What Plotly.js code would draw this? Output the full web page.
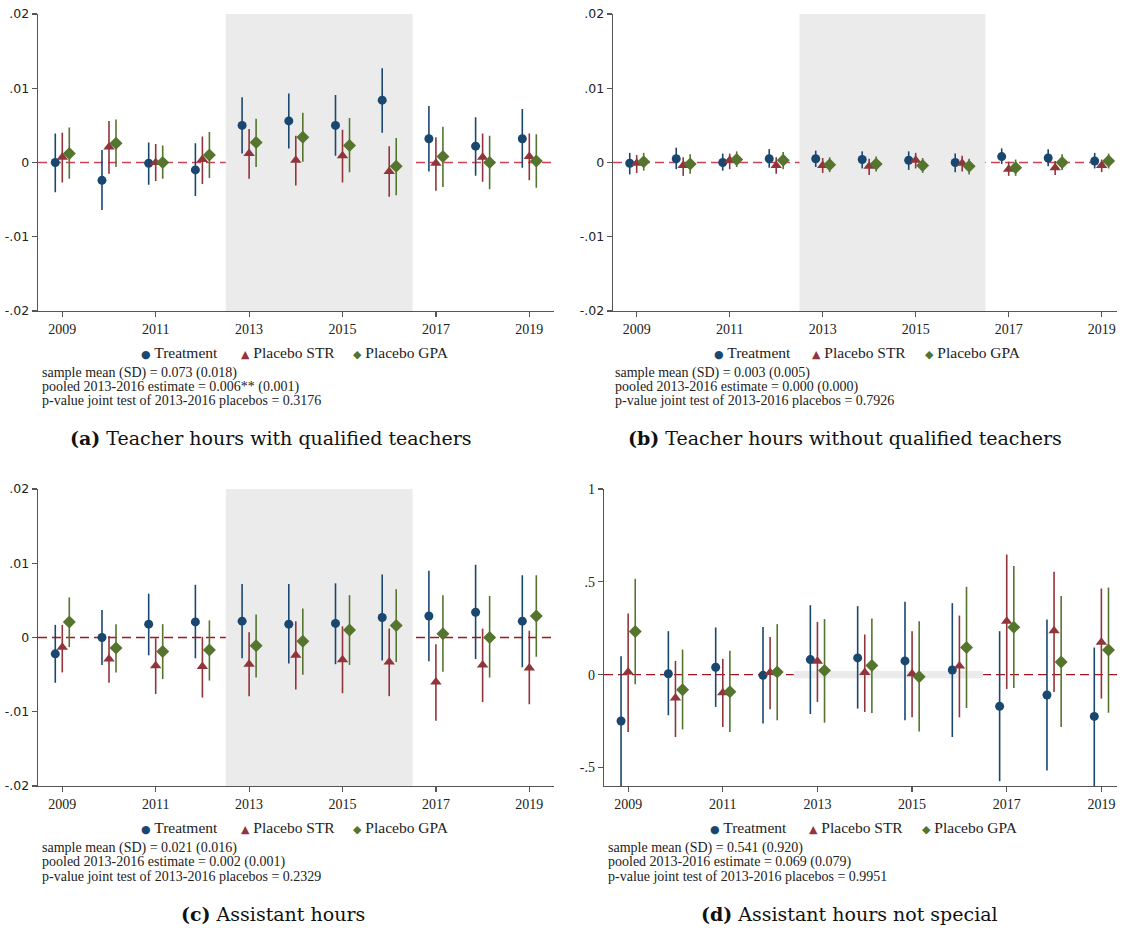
<!DOCTYPE html>
<html>
<head>
<meta charset="utf-8">
<script src="https://cdn.plot.ly/plotly-3.0.1.min.js"></script>
<style>
  html, body { margin: 0; padding: 0; background: #ffffff; }
  #chart { width: 1122px; height: 931px; }
</style>
</head>
<body>
<div id="chart"></div>
<script>
// Event-study estimates with 95% confidence intervals, 2009-2019
const years = [2009, 2010, 2011, 2012, 2013, 2014, 2015, 2016, 2017, 2018, 2019];
const yearTicks = [2009, 2011, 2013, 2015, 2017, 2019];
const seriesNames = ["Treatment", "Placebo STR", "Placebo GPA"];

// (a) Teacher hours with qualified teachers
const treatA    = [0.0000, -0.0024, -0.0001, -0.0010, 0.0050, 0.0056, 0.0050, 0.0084, 0.0032, 0.0022, 0.0032];
const treatA_lo = [-0.0040, -0.0064, -0.0030, -0.0045, 0.0012, 0.0019, 0.0009, 0.0040, -0.0012, -0.0018, -0.0007];
const treatA_hi = [0.0039, 0.0017, 0.0027, 0.0026, 0.0088, 0.0093, 0.0091, 0.0127, 0.0076, 0.0061, 0.0072];
const strA      = [0.0007, 0.0021, 0.0000, 0.0004, 0.0012, 0.0003, 0.0009, -0.0012, -0.0001, 0.0007, 0.0008];
const strA_lo   = [-0.0027, -0.0015, -0.0025, -0.0029, -0.0022, -0.0031, -0.0027, -0.0046, -0.0038, -0.0026, -0.0024];
const strA_hi   = [0.0040, 0.0056, 0.0025, 0.0035, 0.0045, 0.0036, 0.0044, 0.0022, 0.0034, 0.0039, 0.0039];
const gpaA      = [0.0012, 0.0026, 0.0000, 0.0010, 0.0027, 0.0034, 0.0023, -0.0005, 0.0008, 0.0000, 0.0002];
const gpaA_lo   = [-0.0022, -0.0006, -0.0022, -0.0021, -0.0006, 0.0001, -0.0013, -0.0044, -0.0033, -0.0036, -0.0034];
const gpaA_hi   = [0.0047, 0.0058, 0.0023, 0.0041, 0.0059, 0.0067, 0.0060, 0.0033, 0.0048, 0.0036, 0.0038];

// (b) Teacher hours without qualified teachers
const treatB    = [-0.0001, 0.0005, 0.0000, 0.0005, 0.0005, 0.0004, 0.0003, 0.0000, 0.0008, 0.0006, 0.0002];
const treatB_lo = [-0.0016, -0.0009, -0.0011, -0.0007, -0.0006, -0.0008, -0.0010, -0.0013, -0.0002, -0.0005, -0.0008];
const treatB_hi = [0.0013, 0.0020, 0.0012, 0.0018, 0.0016, 0.0015, 0.0015, 0.0012, 0.0019, 0.0018, 0.0013];
const strB      = [-0.0001, -0.0004, 0.0003, -0.0004, -0.0004, -0.0005, 0.0003, -0.0001, -0.0009, -0.0007, -0.0004];
const strB_lo   = [-0.0014, -0.0018, -0.0009, -0.0015, -0.0014, -0.0017, -0.0008, -0.0012, -0.0018, -0.0017, -0.0013];
const strB_hi   = [0.0010, 0.0007, 0.0012, 0.0007, 0.0006, 0.0005, 0.0013, 0.0009, 0.0001, 0.0002, 0.0004];
const gpaB      = [0.0001, -0.0002, 0.0004, 0.0003, -0.0003, -0.0002, -0.0004, -0.0005, -0.0007, 0.0000, 0.0002];
const gpaB_lo   = [-0.0011, -0.0015, -0.0006, -0.0009, -0.0013, -0.0012, -0.0014, -0.0016, -0.0018, -0.0010, -0.0008];
const gpaB_hi   = [0.0013, 0.0011, 0.0015, 0.0014, 0.0007, 0.0008, 0.0006, 0.0005, 0.0004, 0.0011, 0.0012];

// (c) Assistant hours
const treatC    = [-0.0022, 0.0000, 0.0018, 0.0021, 0.0022, 0.0018, 0.0019, 0.0027, 0.0029, 0.0034, 0.0022];
const treatC_lo = [-0.0061, -0.0037, -0.0024, -0.0028, -0.0028, -0.0035, -0.0036, -0.0031, -0.0032, -0.0029, -0.0040];
const treatC_hi = [0.0017, 0.0037, 0.0059, 0.0071, 0.0072, 0.0072, 0.0073, 0.0085, 0.0090, 0.0098, 0.0084];
const strC      = [-0.0013, -0.0029, -0.0038, -0.0039, -0.0036, -0.0024, -0.0030, -0.0033, -0.0060, -0.0037, -0.0041];
const strC_lo   = [-0.0047, -0.0061, -0.0076, -0.0081, -0.0079, -0.0070, -0.0075, -0.0079, -0.0112, -0.0087, -0.0090];
const strC_hi   = [0.0017, 0.0002, -0.0001, 0.0001, 0.0007, 0.0022, 0.0015, 0.0012, -0.0009, 0.0012, 0.0009];
const gpaC      = [0.0021, -0.0014, -0.0019, -0.0017, -0.0011, -0.0005, 0.0010, 0.0016, 0.0005, 0.0000, 0.0029];
const gpaC_lo   = [-0.0013, -0.0047, -0.0056, -0.0058, -0.0054, -0.0050, -0.0037, -0.0033, -0.0046, -0.0054, -0.0026];
const gpaC_hi   = [0.0054, 0.0018, 0.0018, 0.0023, 0.0031, 0.0039, 0.0057, 0.0065, 0.0057, 0.0056, 0.0084];

// (d) Assistant hours not special
const treatD    = [-0.250, 0.005, 0.040, -0.004, 0.081, 0.090, 0.074, 0.025, -0.171, -0.110, -0.225];
const treatD_lo = [-0.640, -0.219, -0.174, -0.263, -0.212, -0.183, -0.246, -0.336, -0.574, -0.516, -0.605];
const treatD_hi = [0.099, 0.234, 0.254, 0.257, 0.374, 0.369, 0.392, 0.385, 0.234, 0.297, 0.146];
const strD      = [0.014, -0.126, -0.097, 0.011, 0.072, 0.011, 0.005, 0.047, 0.288, 0.236, 0.174];
const strD_lo   = [-0.309, -0.336, -0.282, -0.187, -0.147, -0.201, -0.230, -0.230, -0.077, -0.094, -0.129];
const strD_hi   = [0.329, 0.074, 0.085, 0.203, 0.284, 0.216, 0.234, 0.318, 0.647, 0.554, 0.464];
const gpaD      = [0.232, -0.081, -0.092, 0.014, 0.022, 0.049, -0.011, 0.146, 0.255, 0.068, 0.133];
const gpaD_lo   = [-0.052, -0.295, -0.309, -0.246, -0.259, -0.207, -0.306, -0.180, -0.072, -0.282, -0.205];
const gpaD_hi   = [0.516, 0.135, 0.129, 0.272, 0.299, 0.302, 0.288, 0.473, 0.585, 0.423, 0.469];

// Y-axis ticks
const smallTickVals = [-0.02, -0.01, 0, 0.01, 0.02];
const smallTickText = ["-.02", "-.01", "0", ".01", ".02"];
const wideTickVals  = [-0.5, 0, 0.5, 1];
const wideTickText  = ["-.5", "0", ".5", "1"];

// Panel captions and note lines
const captions = [
  "<b>(a)</b> Teacher hours with qualified teachers",
  "<b>(b)</b> Teacher hours without qualified teachers",
  "<b>(c)</b> Assistant hours",
  "<b>(d)</b> Assistant hours not special"
];
const notesA = ["sample mean (SD) = 0.073 (0.018)", "pooled 2013-2016 estimate = 0.006** (0.001)", "p-value joint test of 2013-2016 placebos = 0.3176"];
const notesB = ["sample mean (SD) = 0.003 (0.005)", "pooled 2013-2016 estimate = 0.000 (0.000)", "p-value joint test of 2013-2016 placebos = 0.7926"];
const notesC = ["sample mean (SD) = 0.021 (0.016)", "pooled 2013-2016 estimate = 0.002 (0.001)", "p-value joint test of 2013-2016 placebos = 0.2329"];
const notesD = ["sample mean (SD) = 0.541 (0.920)", "pooled 2013-2016 estimate = 0.069 (0.079)", "p-value joint test of 2013-2016 placebos = 0.9951"];

// ---------------------------------------------------------------------------
const W = 1122, H = 931;
const fx = v => v / W;
const fy = v => 1 - v / H;

const colors  = ["#1a476f", "#90353b", "#55752f"];
const symbols = ["circle", "triangle-up", "diamond"];
const msizes  = [9, 10, 10];
const glyphs  = ["\u25CF", "\u25B2", "\u25C6"];
const gsizes  = [11, 11, 11];
const offsets = [-0.15, 0, 0.15];

const serif = "Liberation Serif, Times New Roman, serif";
const sans  = "DejaVu Sans, Verdana, sans-serif";

const panels = [
  { series: [[treatA, treatA_lo, treatA_hi], [strA, strA_lo, strA_hi], [gpaA, gpaA_lo, gpaA_hi]],
    box: { x0: 38, x1: 553.6, y0: 14, y1: 311 }, xr: [2008.48, 2019.52],
    yr: [-0.02, 0.02], tv: smallTickVals, tt: smallTickText, tfont: sans, tsize: 12.5,
    refColor: "#cf4455", legendX: [143.6, 243.6, 355.7], legendY: 352,
    notes: notesA, notesX: 40, notesY: [373, 387, 401], capX: 271, capY: 438 },
  { series: [[treatB, treatB_lo, treatB_hi], [strB, strB_lo, strB_hi], [gpaB, gpaB_lo, gpaB_hi]],
    box: { x0: 613, x1: 1117, y0: 14, y1: 311 }, xr: [2008.49, 2019.33],
    yr: [-0.02, 0.02], tv: smallTickVals, tt: smallTickText, tfont: sans, tsize: 12.5,
    refColor: "#cf4455", legendX: [717, 815, 928], legendY: 352,
    notes: notesB, notesX: 613, notesY: [373, 387, 401], capX: 845, capY: 438 },
  { series: [[treatC, treatC_lo, treatC_hi], [strC, strC_lo, strC_hi], [gpaC, gpaC_lo, gpaC_hi]],
    box: { x0: 38, x1: 553.6, y0: 489, y1: 786 }, xr: [2008.48, 2019.52],
    yr: [-0.02, 0.02], tv: smallTickVals, tt: smallTickText, tfont: sans, tsize: 12.5,
    refColor: "#a3151f", legendX: [143.6, 243.6, 355.7], legendY: 827,
    notes: notesC, notesX: 40, notesY: [848, 862, 876], capX: 273, capY: 914 },
  { series: [[treatD, treatD_lo, treatD_hi], [strD, strD_lo, strD_hi], [gpaD, gpaD_lo, gpaD_hi]],
    box: { x0: 604, x1: 1117, y0: 489, y1: 786 }, xr: [2008.49, 2019.33],
    yr: [-0.6, 1.0], tv: wideTickVals, tt: wideTickText, tfont: serif, tsize: 14,
    refColor: "#a3151f", legendX: [713, 812, 925], legendY: 827,
    notes: notesD, notesX: 606, notesY: [848, 862, 876], capX: 849, capY: 914 }
];

const traces = [];
const shapes = [];
const annotations = [];
const layout = {
  width: W, height: H,
  margin: { l: 0, r: 0, t: 0, b: 0 },
  paper_bgcolor: "#ffffff", plot_bgcolor: "rgba(0,0,0,0)",
  showlegend: false,
  font: { family: serif, color: "#222" }
};

panels.forEach((p, i) => {
  const s = i === 0 ? "" : String(i + 1);
  const xa = "x" + s, ya = "y" + s;

  layout["xaxis" + s] = {
    domain: [fx(p.box.x0), fx(p.box.x1)], range: p.xr, anchor: ya,
    tickvals: yearTicks, ticktext: yearTicks.map(String),
    ticks: "outside", ticklen: 5, tickwidth: 1.2, tickcolor: "#555",
    showline: true, linecolor: "#555", linewidth: 1.3,
    showgrid: false, zeroline: false, fixedrange: true,
    tickfont: { family: serif, size: 14, color: "#222" }
  };
  layout["yaxis" + s] = {
    domain: [fy(p.box.y1), fy(p.box.y0)], range: p.yr, anchor: xa,
    tickvals: p.tv, ticktext: p.tt,
    ticks: "outside", ticklen: 5, tickwidth: 1.2, tickcolor: "#555",
    showline: true, linecolor: "#555", linewidth: 1.3,
    showgrid: false, zeroline: false, fixedrange: true,
    tickfont: { family: p.tfont, size: p.tsize, color: "#222" }
  };

  // shaded 2013-2016 window and zero reference line
  shapes.push({ type: "rect", xref: xa, yref: ya, x0: 2012.5, x1: 2016.5, y0: -0.02, y1: 0.02,
                fillcolor: "#ebebeb", line: { width: 0 }, layer: "below" });
  shapes.push({ type: "line", xref: xa + " domain", yref: ya, x0: 0, x1: 1, y0: 0, y1: 0,
                line: { color: p.refColor, width: 1.4, dash: "9px,5px" }, layer: "below" });

  p.series.forEach((ser, k) => {
    const [est, lo, hi] = ser;
    traces.push({
      type: "scatter", mode: "markers", name: seriesNames[k],
      x: years.map(yr => yr + offsets[k]), y: est,
      xaxis: xa, yaxis: ya, cliponaxis: true, hoverinfo: "skip",
      marker: { symbol: symbols[k], size: msizes[k], color: colors[k], line: { width: 0 } },
      error_y: {
        type: "data", symmetric: false, visible: true,
        array: hi.map((h, j) => h - est[j]),
        arrayminus: est.map((v, j) => v - lo[j]),
        color: colors[k], thickness: 1.6, width: 0
      }
    });
    // legend entry
    annotations.push({
      xref: "paper", yref: "paper", x: fx(p.legendX[k] - 5), y: fy(p.legendY),
      xanchor: "left", yanchor: "middle", showarrow: false,
      text: '<span style="color:' + colors[k] + ';font-family:DejaVu Sans;font-size:' + gsizes[k] + 'px">' +
            glyphs[k] + '</span> ' + seriesNames[k],
      font: { family: serif, size: 15.5, color: "#222" }
    });
  });

  p.notes.forEach((line, j) => {
    annotations.push({
      xref: "paper", yref: "paper", x: fx(p.notesX), y: fy(p.notesY[j]),
      xanchor: "left", yanchor: "middle", showarrow: false, text: line,
      font: { family: serif, size: 14, color: "#222" }
    });
  });

  annotations.push({
    xref: "paper", yref: "paper", x: fx(p.capX), y: fy(p.capY),
    xanchor: "center", yanchor: "middle", showarrow: false, text: captions[i],
    font: { family: "DejaVu Serif, serif", size: 19, color: "#111" }
  });
});

layout.shapes = shapes;
layout.annotations = annotations;

Plotly.newPlot("chart", traces, layout, { displayModeBar: false, staticPlot: true });
</script>
</body>
</html>
